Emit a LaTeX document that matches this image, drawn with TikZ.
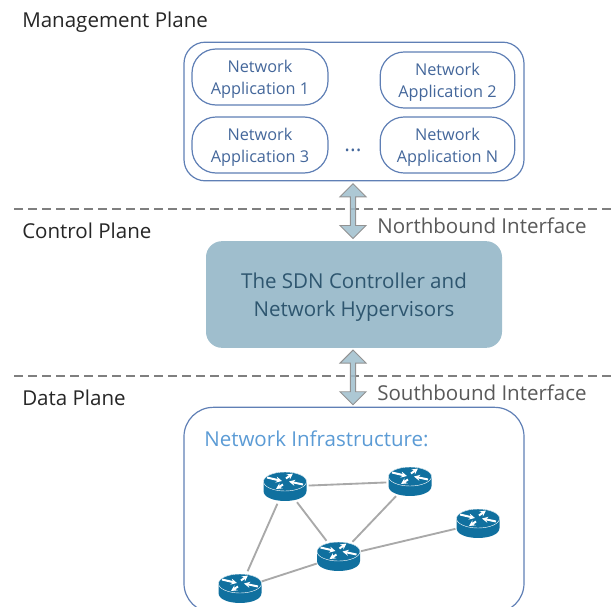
\documentclass[tikz,border=0pt]{standalone}
\usepackage{xcolor}
\usepackage{fontspec}
\setmainfont{Open Sans}
\usetikzlibrary{positioning}
\usetikzlibrary{arrows.meta}
\usetikzlibrary{math}
\usetikzlibrary{calc}
\usetikzlibrary{shapes.geometric}
\usetikzlibrary{shapes.arrows}

\definecolor{boxblue}{HTML}{5F7FB5}
\definecolor{apptext}{HTML}{44679B}
\definecolor{ctrlfill}{HTML}{9FBECD}
\definecolor{ctrltext}{HTML}{2E566F}
\definecolor{infratext}{HTML}{5B9BD5}
\definecolor{routerblue}{HTML}{10709F}
\definecolor{linkgray}{HTML}{A9A9A9}
\definecolor{planegray}{HTML}{7F7F7F}
\definecolor{labelgray}{HTML}{595959}

\newcommand{\appstrut}{\rule{0pt}{13.1pt}}

\tikzset{
  appbox/.style={draw=boxblue, line width=0.9pt, rounded corners=18pt, fill=white,
    minimum height=42pt, text=apptext, align=center, font=\fontsize{12.2}{16.3}\selectfont,
    inner sep=0pt},
  planelabel/.style={anchor=west, inner sep=0pt, text=black!85, font=\fontsize{15.4}{17}\selectfont},
  ifacelabel/.style={anchor=west, inner sep=0pt, text=labelgray, font=\fontsize{15.4}{17}\selectfont},
  planeline/.style={draw=planegray, line width=1pt, dash pattern=on 6.5pt off 4pt},
  bigarrow/.style={double arrow, draw=planegray!85, line width=0.7pt, fill=ctrlfill, fill opacity=0.85,
    rotate=90, minimum height=41pt, minimum width=19.5pt, double arrow head extend=1.4pt, inner sep=0pt},
  routernode/.style={ellipse, minimum width=35pt, minimum height=27pt, inner sep=0pt},
  link/.style={draw=linkgray, line width=1.4pt},
  routerarrow/.style={white, line width=1.5pt, -{Stealth[length=4.5pt,width=4.5pt]}},
  pics/router/.style={code={
    % body of the router
    \fill[routerblue] (-21.5,-5) -- (-21.5,4.5) .. controls (-21.5,17.8) and (21.5,17.8) .. (21.5,4.5)
      -- (21.5,-5) arc [start angle=0, end angle=-180, x radius=21.5, y radius=9.5] -- cycle;
    \draw[white, line width=0.3pt, fill=routerblue] (0,-5) ellipse [x radius=21.5, y radius=9.5];
    % arrows on top
    \draw[routerarrow] (-18,-9) -- (-3,-5.5);
    \draw[routerarrow] (18,-2) -- (4,-5);
    \draw[routerarrow] (1,-8) -- (8,-13);
    \draw[routerarrow] (-2,-2) -- (-9,2.5);
  }}
}

\begin{document}
\begin{tikzpicture}[x=0.75pt,y=-0.75pt]

  \useasboundingbox (0,0) rectangle (611,607);

  % plane labels
  \node[planelabel] (mgmtlabel) at (22,22) {Management Plane};
  \node[planelabel] (ctrllabel) at (22,231) {Control Plane};
  \node[planelabel] (datalabel) at (22,398) {Data Plane};

  % separators between the planes
  \coordinate (northL) at (14,209);
  \coordinate (northR) at (611,209);
  \coordinate (southL) at (14,376);
  \coordinate (southR) at (611,376);
  \draw[planeline] (northL) -- (northR);
  \draw[planeline] (southL) -- (southR);

  % management plane
  \node[draw=boxblue, line width=0.9pt, rounded corners=16pt, minimum width=255pt, minimum height=104pt, inner sep=0pt]
    (mgmt) at (354,111.5) {};
  \node[appbox, minimum width=102pt] (appA) at (260,77) {\appstrut Network\\Application 1};
  \node[appbox, minimum width=101pt] (appB) at (447.5,80) {\appstrut Network\\Application 2};
  \node[appbox, minimum width=102pt] (appC) at (260,145) {\appstrut Network\\Application 3};
  \node[appbox, minimum width=101pt] (appD) at (447.5,145) {\appstrut Network\\Application N};
  \node[inner sep=0pt, text=apptext, font=\fontsize{16}{16}\selectfont] (dots) at (353,150) {...};

  % control plane
  \node[fill=ctrlfill, rounded corners=12pt, minimum width=222pt, minimum height=80pt, inner sep=0pt,
    text=ctrltext, align=center, font=\fontsize{15.4}{21}\selectfont] (ctrl) at (354,294.5)
    {\rule{0pt}{16.2pt}The SDN Controller and\\Network Hypervisors};

  % data plane
  \begin{scope}
    \clip (0,0) rectangle (611,607);
    \node[draw=boxblue, line width=0.9pt, rounded corners=22pt, minimum width=255pt, minimum height=154pt, inner sep=0pt]
      (infra) at (354,510) {};
  \end{scope}
  \node[anchor=west, inner sep=0pt, text=infratext, font=\fontsize{15.4}{17}\selectfont] (infralabel) at (204,439) {Network Infrastructure:};

  % interfaces
  \path (mgmt.south -| 353,0) -- (ctrl.north -| 353,0) node[bigarrow, midway] (north) {};
  \path (ctrl.south -| 353,0) -- (infra.north -| 353,0) node[bigarrow, midway] (south) {};
  \node[ifacelabel] (northlabel) at (377,226) {Northbound Interface};
  \node[ifacelabel] (southlabel) at (377,393) {Southbound Interface};

  % routers
  \node[routernode] (routerA) at (285,486.5) {};
  \node[routernode] (routerB) at (410,481.5) {};
  \node[routernode] (routerC) at (478,523.5) {};
  \node[routernode] (routerD) at (338.5,556.5) {};
  \node[routernode] (routerE) at (240,588.5) {};

  \draw[link] (routerA) -- (routerB);
  \draw[link] (routerA) -- (routerD);
  \draw[link] (routerA) -- (routerE);
  \draw[link] (routerB) -- (routerD);
  \draw[link] (routerC) -- (routerD);
  \draw[link] (routerD) -- (routerE);

  \foreach \r in {routerA,routerB,routerC,routerD,routerE}
    \pic at (\r) {router};

\end{tikzpicture}
\end{document}
